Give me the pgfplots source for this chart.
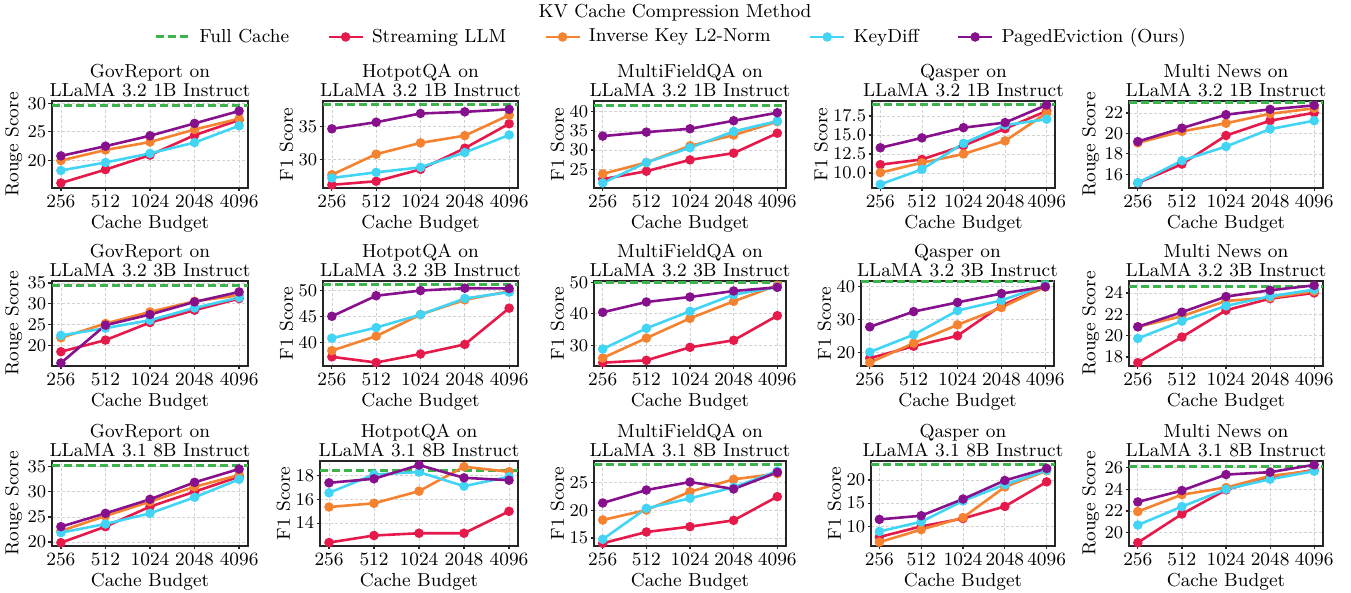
\documentclass[border=0pt]{standalone}
\usepackage{pgfplots}
\pgfplotsset{compat=1.18}

\definecolor{cFC}{HTML}{3CB44B}
\definecolor{cSL}{HTML}{E6194B}
\definecolor{cIK}{HTML}{F58231}
\definecolor{cKD}{HTML}{42D4F4}
\definecolor{cPE}{HTML}{87108C}

\newcommand{\fs}{\fontsize{9.4}{9.5}\selectfont}

\pgfplotsset{
  base/.style={
    scale only axis, anchor=south west,
    xmin=-0.2, xmax=4.2,
    xtick={0,1,2,3,4}, xticklabels={256,512,1024,2048,4096},
    xlabel={Cache Budget},
    tick pos=left, tick align=outside, major tick length=1.75pt,
    tick style={black!85, line width=0.6pt},
    axis line style={black!85, line width=0.7pt},
    grid=major,
    grid style={gray!35, line width=0.35pt, dash pattern=on 1.5pt off 1pt},
    tick label style={font=\fs},
    xticklabel style={inner sep=1pt, yshift=-0.3pt},
    yticklabel style={inner sep=1pt},
    label style={font=\fs},
    xlabel style={yshift=0.5pt},
    ylabel style={inner sep=0pt},
    ylabel shift=1.5pt,
    title style={font=\fs, align=center, at={(0.5,1)}, anchor=south, inner sep=0pt, yshift=-4pt},
    clip=false,
  },
  fc/.style={color=cFC, line width=1.5pt, dash pattern=on 4pt off 2pt, no markers},
  sl/.style={color=cSL, line width=1.3pt, mark=*, mark size=1.7pt, mark options={solid}},
  ik/.style={color=cIK, line width=1.3pt, mark=*, mark size=1.7pt, mark options={solid}},
  kd/.style={color=cKD, line width=1.3pt, mark=*, mark size=1.7pt, mark options={solid}},
  pe/.style={color=cPE, line width=1.3pt, mark=*, mark size=1.7pt, mark options={solid}},
}

% #1 axis options, #2 full cache, #3-#6 Streaming, InvKey, KeyDiff, Paged
\newcommand{\panel}[6]{%
  \begin{axis}[base, #1]
    \addplot[fc] coordinates {(-0.2,#2) (4.2,#2)};
    \addplot[sl] coordinates {#3};
    \addplot[ik] coordinates {#4};
    \addplot[kd] coordinates {#5};
    \addplot[pe] coordinates {#6};
  \end{axis}}

\begin{document}
\begin{tikzpicture}
\useasboundingbox (0,0) rectangle (675.5pt,296.5pt);

% legend
\node[font=\fs] at (337.5pt,290pt) {KV Cache Compression Method};
\begin{axis}[at={(0pt,0pt)}, anchor=south west, scale only axis,
  width=675.5pt, height=296.5pt, hide axis,
  xmin=0, xmax=1, ymin=0, ymax=1,
  legend columns=5,
  legend style={at={(0.4974,0.9376)}, anchor=center, draw=none, fill=none,
    font=\fs,
    /tikz/every even column/.append style={column sep=17pt},
    /tikz/every odd column/.append style={column sep=2pt}},
  ]
  \addlegendimage{fc}\addlegendentry{Full Cache}
  \addlegendimage{sl}\addlegendentry{Streaming LLM}
  \addlegendimage{ik}\addlegendentry{Inverse Key L2-Norm}
  \addlegendimage{kd}\addlegendentry{KeyDiff}
  \addlegendimage{pe}\addlegendentry{PagedEviction (Ours)}
\end{axis}

% ---------- row 1: LLaMA 3.2 1B ----------
\panel{at={(26pt,202.5pt)}, width=98pt, height=43.5pt,
  ymin=15.12, ymax=30.41, ytick={20,25,30}, ylabel={Rouge Score},
  title={GovReport on\\LLaMA 3.2 1B Instruct}}{29.7}
  {(0,16.0) (1,18.35) (2,20.9) (3,24.4) (4,27.06)}
  {(0,19.94) (1,21.8) (2,23.2) (3,25.4) (4,27.3)}
  {(0,18.2) (1,19.6) (2,21.2) (3,23.1) (4,26.06)}
  {(0,20.76) (1,22.47) (2,24.3) (3,26.47) (4,28.65)}

\panel{at={(161.5pt,202.5pt)}, width=97.5pt, height=43.5pt,
  ymin=25.68, ymax=38.84, ytick={30,35}, ylabel={F1 Score},
  title={HotpotQA on\\LLaMA 3.2 1B Instruct}}{38.26}
  {(0,26.16) (1,26.7) (2,28.5) (3,31.7) (4,35.4)}
  {(0,27.68) (1,30.8) (2,32.5) (3,33.6) (4,36.7)}
  {(0,27.2) (1,28.05) (2,28.8) (3,31.05) (4,33.7)}
  {(0,34.63) (1,35.63) (2,36.95) (3,37.2) (4,37.58)}

\panel{at={(297pt,202.5pt)}, width=96pt, height=43.5pt,
  ymin=20.1, ymax=42.8, ytick={25,30,35,40}, ylabel={F1 Score},
  title={MultiFieldQA on\\LLaMA 3.2 1B Instruct}}{41.74}
  {(0,22.4) (1,24.48) (2,27.44) (3,29.2) (4,34.4)}
  {(0,23.78) (1,26.75) (2,31.1) (3,33.9) (4,37.4)}
  {(0,21.43) (1,26.75) (2,30.6) (3,34.86) (4,37.56)}
  {(0,33.64) (1,34.68) (2,35.55) (3,37.65) (4,39.74)}

\panel{at={(436pt,202.5pt)}, width=91.5pt, height=43.5pt,
  ymin=8.03, ymax=19.47, ytick={10,12.5,15,17.5}, ylabel={F1 Score},
  yticklabel style={/pgf/number format/.cd, fixed, fixed zerofill, precision=1},
  title={Qasper on\\LLaMA 3.2 1B Instruct}}{18.99}
  {(0,11.1) (1,11.78) (2,13.6) (3,15.82) (4,18.17)}
  {(0,10.05) (1,11.35) (2,12.5) (3,14.23) (4,17.88)}
  {(0,8.51) (1,10.48) (2,13.9) (3,16.3) (4,17.07)}
  {(0,13.32) (1,14.62) (2,15.96) (3,16.63) (4,18.95)}

\panel{at={(564.5pt,202.5pt)}, width=97pt, height=43.5pt,
  ymin=14.66, ymax=23.18, ytick={16,18,20,22}, ylabel={Rouge Score},
  title={Multi News on\\LLaMA 3.2 1B Instruct}}{23.05}
  {(0,15.15) (1,17.0) (2,19.8) (3,21.25) (4,22.03)}
  {(0,19.08) (1,20.2) (2,21.0) (3,21.93) (4,22.46)}
  {(0,15.18) (1,17.34) (2,18.72) (3,20.43) (4,21.25)}
  {(0,19.21) (1,20.52) (2,21.84) (3,22.36) (4,22.75)}

% ---------- row 2: LLaMA 3.2 3B ----------
\panel{at={(26pt,113.5pt)}, width=98pt, height=42.5pt,
  ymin=15.05, ymax=35.48, ytick={20,25,30,35}, ylabel={Rouge Score},
  title={GovReport on\\LLaMA 3.2 3B Instruct}}{34.28}
  {(0,18.48) (1,21.27) (2,25.5) (3,28.46) (4,31.25)}
  {(0,21.83) (1,25.26) (2,28.06) (3,30.6) (4,32.05)}
  {(0,22.39) (1,24.15) (2,26.06) (3,29.0) (4,31.5)}
  {(0,15.77) (1,24.86) (2,27.42) (3,30.45) (4,32.85)}

\panel{at={(161.5pt,113.5pt)}, width=97.5pt, height=42.5pt,
  ymin=35.43, ymax=51.85, ytick={40,45,50}, ylabel={F1 Score},
  title={HotpotQA on\\LLaMA 3.2 3B Instruct}}{51.19}
  {(0,37.2) (1,36.1) (2,37.75) (3,39.6) (4,46.6)}
  {(0,38.4) (1,41.2) (2,45.36) (3,48.2) (4,49.87)}
  {(0,40.8) (1,42.85) (2,45.36) (3,48.48) (4,49.7)}
  {(0,45.03) (1,49.0) (2,50.0) (3,50.46) (4,50.4)}

\panel{at={(297pt,113.5pt)}, width=96pt, height=42.5pt,
  ymin=23.44, ymax=50.42, ytick={30,40,50}, ylabel={F1 Score},
  title={MultiFieldQA on\\LLaMA 3.2 3B Instruct}}{50.0}
  {(0,24.5) (1,25.24) (2,29.37) (3,31.6) (4,39.4)}
  {(0,25.98) (1,32.3) (2,38.57) (3,43.97) (4,49.05)}
  {(0,28.84) (1,35.4) (2,40.8) (3,46.1) (4,48.5)}
  {(0,40.48) (1,43.76) (2,45.34) (3,47.25) (4,48.41)}

\panel{at={(430.5pt,113.5pt)}, width=96.5pt, height=42.5pt,
  ymin=15.98, ymax=41.75, ytick={20,30,40}, ylabel={F1 Score},
  title={Qasper on\\LLaMA 3.2 3B Instruct}}{41.55}
  {(0,18.35) (1,21.96) (2,25.15) (3,34.33) (4,40.0)}
  {(0,17.0) (1,22.9) (2,28.45) (3,33.7) (4,40.0)}
  {(0,20.2) (1,25.46) (2,32.78) (3,35.88) (4,40.4)}
  {(0,27.84) (1,32.47) (2,35.26) (3,37.94) (4,40.0)}

\panel{at={(564.5pt,113.5pt)}, width=97pt, height=42.5pt,
  ymin=17.16, ymax=25.12, ytick={18,20,22,24}, ylabel={Rouge Score},
  title={Multi News on\\LLaMA 3.2 3B Instruct}}{24.59}
  {(0,17.47) (1,19.87) (2,22.38) (3,23.47) (4,24.0)}
  {(0,20.83) (1,21.82) (2,23.25) (3,23.56) (4,24.16)}
  {(0,19.74) (1,21.36) (2,22.79) (3,23.69) (4,24.31)}
  {(0,20.83) (1,22.2) (2,23.66) (3,24.25) (4,24.71)}

% ---------- row 3: LLaMA 3.1 8B ----------
\panel{at={(26pt,23.5pt)}, width=98pt, height=42.5pt,
  ymin=19.21, ymax=36.13, ytick={20,25,30,35}, ylabel={Rouge Score},
  title={GovReport on\\LLaMA 3.1 8B Instruct}}{35.33}
  {(0,19.87) (1,23.06) (2,27.04) (3,30.02) (4,33.0)}
  {(0,22.2) (1,25.18) (2,28.03) (3,31.0) (4,33.34)}
  {(0,21.86) (1,23.59) (2,25.71) (3,28.9) (4,32.48)}
  {(0,23.06) (1,25.71) (2,28.5) (3,31.88) (4,34.54)}

\panel{at={(160pt,23.5pt)}, width=99pt, height=42.5pt,
  ymin=12.08, ymax=19.21, ytick={14,16,18}, ylabel={F1 Score},
  title={HotpotQA on\\LLaMA 3.1 8B Instruct}}{18.45}
  {(0,12.37) (1,12.96) (2,13.15) (3,13.15) (4,14.99)}
  {(0,15.35) (1,15.66) (2,16.68) (3,18.73) (4,18.31)}
  {(0,16.54) (1,18.08) (2,18.28) (3,17.1) (4,17.89)}
  {(0,17.38) (1,17.72) (2,18.87) (3,17.8) (4,17.6)}

\panel{at={(297pt,23.5pt)}, width=96pt, height=42.5pt,
  ymin=13.55, ymax=28.92, ytick={15,20,25}, ylabel={F1 Score},
  title={MultiFieldQA on\\LLaMA 3.1 8B Instruct}}{28.25}
  {(0,14.04) (1,16.08) (2,17.05) (3,18.19) (4,22.47)}
  {(0,18.25) (1,20.06) (2,23.37) (3,25.6) (4,26.63)}
  {(0,14.76) (1,20.36) (2,22.17) (3,24.16) (4,27.1)}
  {(0,21.33) (1,23.67) (2,25.12) (3,23.86) (4,26.87)}

\panel{at={(435.5pt,23.5pt)}, width=92pt, height=42.5pt,
  ymin=5.77, ymax=24.1, ytick={10,15,20}, ylabel={F1 Score},
  title={Qasper on\\LLaMA 3.1 8B Instruct}}{23.3}
  {(0,7.7) (1,10.0) (2,11.7) (3,14.3) (4,19.6)}
  {(0,6.6) (1,9.3) (2,11.9) (3,18.5) (4,22.0)}
  {(0,8.9) (1,11.0) (2,15.5) (3,19.0) (4,22.1)}
  {(0,11.5) (1,12.3) (2,15.9) (3,19.9) (4,22.5)}

\panel{at={(564.5pt,23.5pt)}, width=97pt, height=42.5pt,
  ymin=18.77, ymax=26.6, ytick={20,22,24,26}, ylabel={Rouge Score},
  title={Multi News on\\LLaMA 3.1 8B Instruct}}{26.06}
  {(0,19.08) (1,21.72) (2,23.94) (3,25.1) (4,25.78)}
  {(0,21.94) (1,23.5) (2,24.15) (3,25.23) (4,25.7)}
  {(0,20.7) (1,22.4) (2,24.0) (3,24.92) (4,25.66)}
  {(0,22.83) (1,23.88) (2,25.35) (3,25.57) (4,26.25)}

\end{tikzpicture}
\end{document}
